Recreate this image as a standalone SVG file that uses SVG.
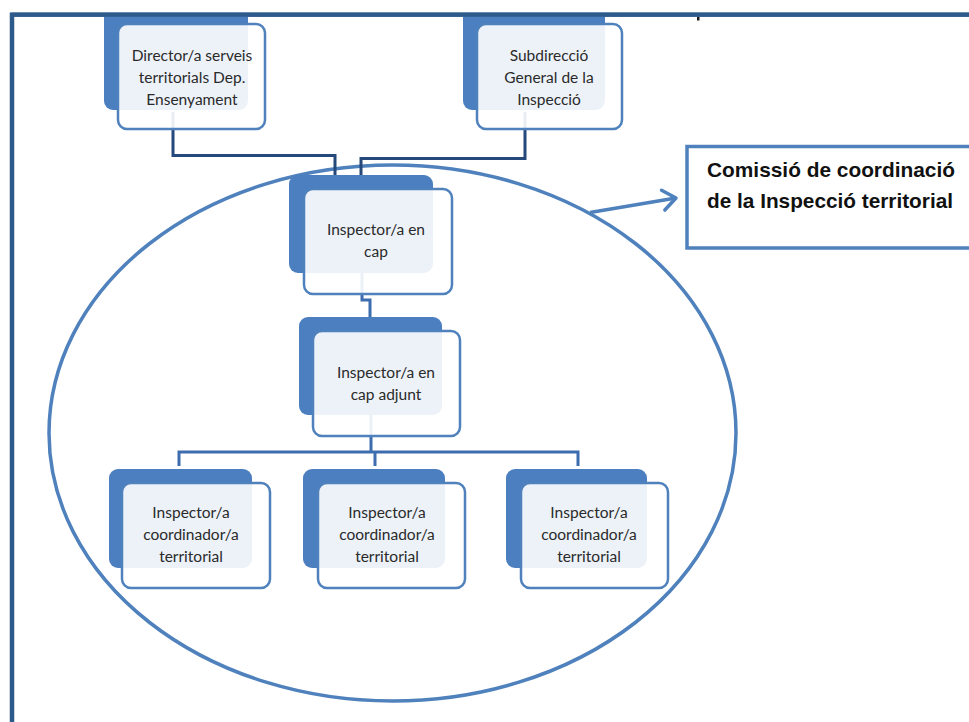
<svg xmlns="http://www.w3.org/2000/svg" width="969" height="722" viewBox="0 0 969 722">
  <defs>
    <style>
      .back { fill: #4b7fc0; }
      .front { fill: #ffffff; fill-opacity: 0.9; stroke: #4f81bd; stroke-width: 2.5; }
      .lbl { font-family: Lato, "Open Sans", "Liberation Sans", sans-serif; font-size: 15.5px; fill: #2a2a2a; text-anchor: middle; }
      .top-link { fill: none; stroke: #24497a; stroke-width: 3; }
      .link { fill: none; stroke: #3d6daf; stroke-width: 3; }
      .title { font-family: "Liberation Sans", Arial, sans-serif; font-weight: bold; font-size: 21px; fill: #111111; }
    </style>
    <marker id="chevron" markerUnits="userSpaceOnUse" markerWidth="26" markerHeight="26" viewBox="-15 -13 19 26" refX="0" refY="0" orient="auto">
      <path d="M -13 -10 L 0 0 L -13 10" fill="none" stroke="#4f81bd" stroke-width="3.5" stroke-linecap="round" stroke-linejoin="round"/>
    </marker>
  </defs>

  <rect width="969" height="722" fill="#ffffff"/>

  <!-- page frame -->
  <path d="M 12 722 V 14.5 H 969" fill="none" stroke="#2c5a8a" stroke-width="4.5"/>
  <rect x="697" y="17" width="2.5" height="3.5" fill="#1a1a1a"/>

  <!-- committee boundary -->
  <ellipse cx="392.5" cy="433" rx="343.5" ry="268" fill="none" stroke="#4f81bd" stroke-width="3.5"/>

  <!-- connectors -->
  <g id="connectors">
    <path class="top-link" d="M 173 112 V 155.5 H 335 V 176"/>
    <path class="top-link" d="M 525 112 V 158.5 H 361 V 176"/>
    <path class="link" d="M 362 270 V 300 H 370 V 318"/>
    <path class="link" d="M 371 410 V 452 M 179 466 V 452 H 578 V 466 M 375 452 V 466"/>
    <path d="M 590 212.5 L 676 198" fill="none" stroke="#4f81bd" stroke-width="3.5" marker-end="url(#chevron)"/>
  </g>

  <g id="director">
    <rect class="back" x="104" y="8" width="144" height="102" rx="9"/>
    <rect class="front" x="118" y="24" width="147" height="105" rx="9"/>
    <text class="lbl" x="192" y="61">Director/a serveis</text>
    <text class="lbl" x="192" y="83">territorials Dep.</text>
    <text class="lbl" x="192" y="104.5">Ensenyament</text>
  </g>

  <g id="subdireccio">
    <rect class="back" x="463" y="8" width="142" height="102" rx="9"/>
    <rect class="front" x="477" y="24" width="145" height="105" rx="9"/>
    <text class="lbl" x="549" y="61">Subdirecció</text>
    <text class="lbl" x="549" y="83">General de la</text>
    <text class="lbl" x="549" y="104.5">Inspecció</text>
  </g>

  <!-- frame top edge stays above the clipped node backs -->
  <path d="M 12 14.5 H 969" fill="none" stroke="#2c5a8a" stroke-width="4.5"/>
  <rect x="0" y="0" width="969" height="12.25" fill="#ffffff"/>

  <g id="inspector-cap">
    <rect class="back" x="289" y="175" width="144" height="98" rx="9"/>
    <rect class="front" x="304" y="189" width="148" height="105" rx="9"/>
    <text class="lbl" x="376" y="235">Inspector/a en</text>
    <text class="lbl" x="376" y="257">cap</text>
  </g>

  <g id="inspector-cap-adjunt">
    <rect class="back" x="299" y="317" width="143" height="98" rx="9"/>
    <rect class="front" x="313" y="331" width="147" height="105" rx="9"/>
    <text class="lbl" x="386" y="378">Inspector/a en</text>
    <text class="lbl" x="386" y="400">cap adjunt</text>
  </g>

  <g id="coordinador-1">
    <rect class="back" x="109" y="469" width="143" height="99" rx="9"/>
    <rect class="front" x="122" y="483" width="148" height="105" rx="9"/>
    <text class="lbl" x="191" y="518">Inspector/a</text>
    <text class="lbl" x="191" y="540">coordinador/a</text>
    <text class="lbl" x="191" y="562">territorial</text>
  </g>

  <g id="coordinador-2">
    <rect class="back" x="303" y="469" width="142" height="99" rx="9"/>
    <rect class="front" x="318" y="483" width="147" height="105" rx="9"/>
    <text class="lbl" x="387" y="518">Inspector/a</text>
    <text class="lbl" x="387" y="540">coordinador/a</text>
    <text class="lbl" x="387" y="562">territorial</text>
  </g>

  <g id="coordinador-3">
    <rect class="back" x="506" y="469" width="141" height="99" rx="9"/>
    <rect class="front" x="521" y="483" width="147" height="105" rx="9"/>
    <text class="lbl" x="589" y="518">Inspector/a</text>
    <text class="lbl" x="589" y="540">coordinador/a</text>
    <text class="lbl" x="589" y="562">territorial</text>
  </g>

  <g id="comissio">
    <rect x="687" y="146.5" width="300" height="101.5" fill="#ffffff" stroke="#4f81bd" stroke-width="3.5"/>
    <text class="title" x="707" y="177" textLength="248" lengthAdjust="spacingAndGlyphs">Comissió de coordinació</text>
    <text class="title" x="707" y="208" textLength="246" lengthAdjust="spacingAndGlyphs">de la Inspecció territorial</text>
  </g>
</svg>
